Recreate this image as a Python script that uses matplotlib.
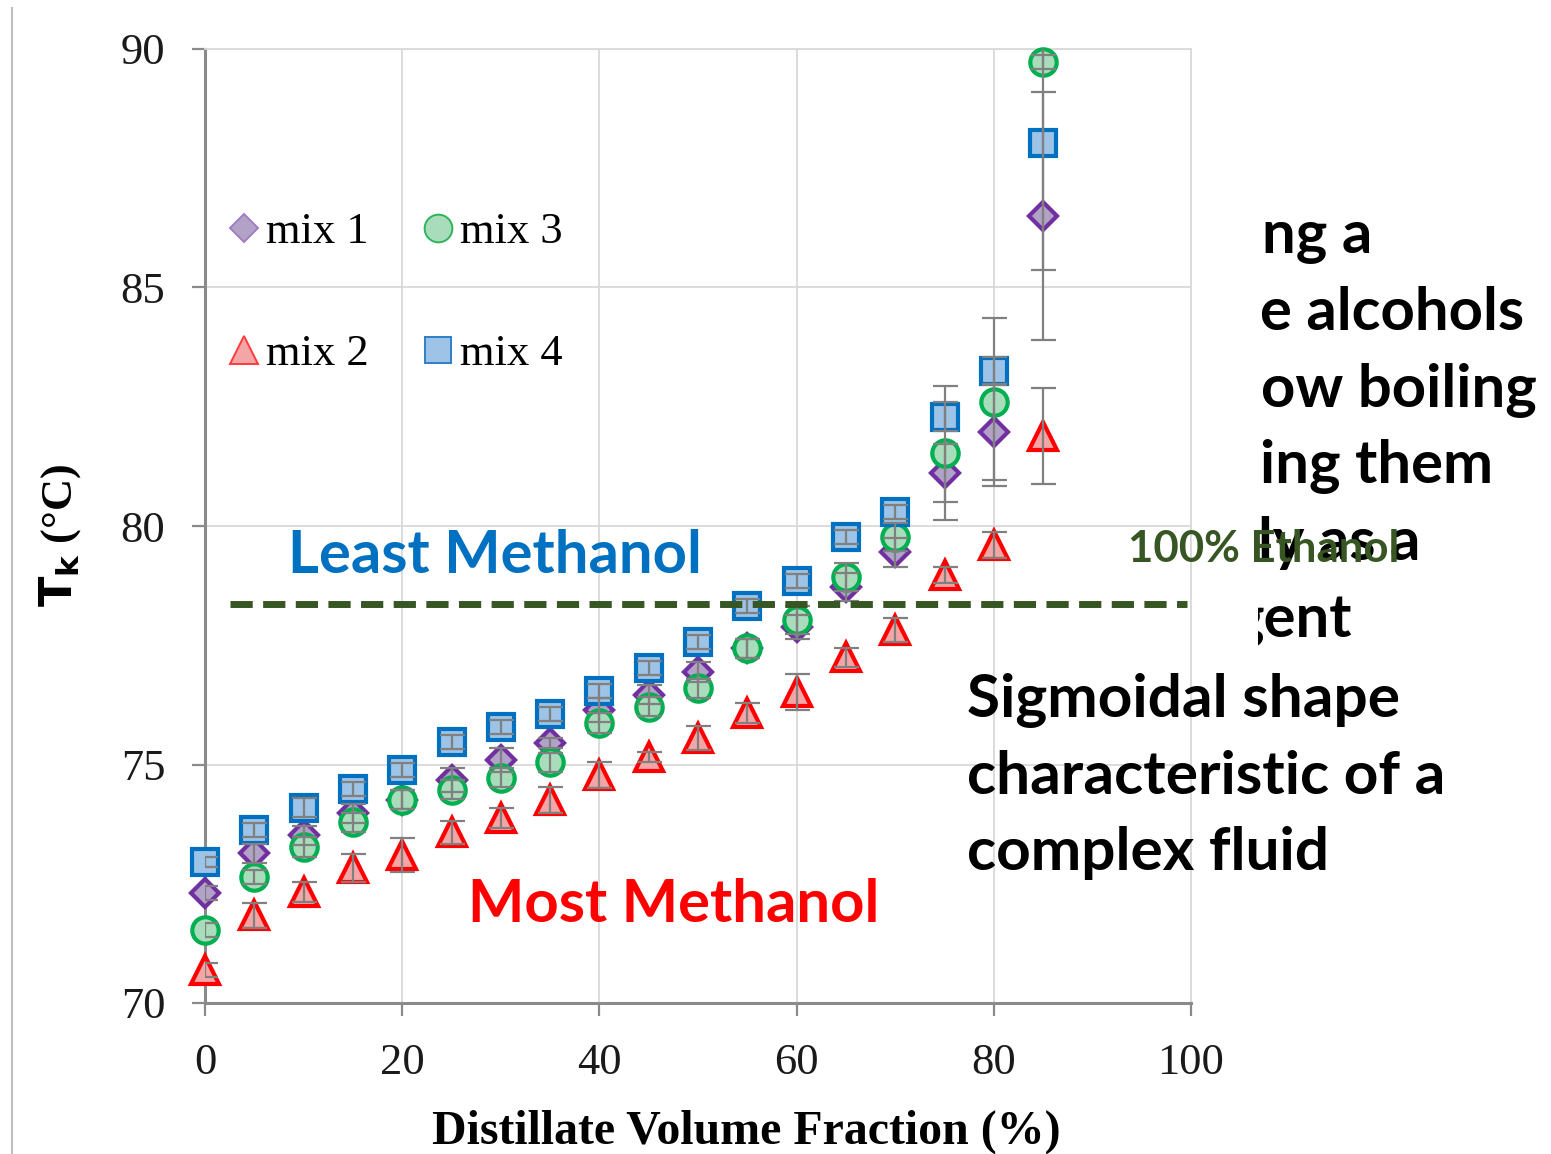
import numpy as np
import matplotlib
matplotlib.use("Agg")
import matplotlib.pyplot as plt
from matplotlib.lines import Line2D
from matplotlib.transforms import Bbox, TransformedBbox

# distillate volume fraction (%)
fraction = [0, 5, 10, 15, 20, 25, 30, 35, 40, 45, 50, 55, 60, 65, 70, 75, 80, 85]

# kettle temperature (deg C) per mixture
mix1 = [72.31, 73.14, 73.52, 73.98, 74.26, 74.67, 75.09, 75.45, 76.14, 76.46,
        76.94, 77.44, 77.88, 78.72, 79.45, 81.11, 81.97, 86.50]
mix2 = [70.69, 71.84, 72.33, 72.83, 73.10, 73.58, 73.88, 74.26, 74.78, 75.16,
        75.56, 76.08, 76.52, 77.25, 77.82, 78.97, 79.60, 81.89]
mix3 = [71.53, 72.64, 73.27, 73.79, 74.26, 74.47, 74.72, 75.05, 75.87, 76.21,
        76.60, 77.44, 78.03, 78.93, 79.77, 81.53, 82.60, 89.73]
mix4 = [72.96, 73.63, 74.09, 74.49, 74.88, 75.47, 75.79, 76.06, 76.54, 77.02,
        77.57, 78.32, 78.85, 79.77, 80.29, 82.29, 83.25, 88.03]

# standard deviations
err1 = [0.15, 0.20, 0.20, 0.20, 0.20, 0.25, 0.25, 0.11, 0.25, 0.20,
        0.20, 0.20, 0.25, 0.30, 0.30, 0.60, 1.00, 2.60]
err2 = [0.15, 0.26, 0.21, 0.29, 0.36, 0.24, 0.21, 0.27, 0.27, 0.10,
        0.25, 0.20, 0.38, 0.20, 0.25, 0.17, 0.27, 1.00]
err3 = [0.15, 0.15, 0.20, 0.20, 0.20, 0.20, 0.20, 0.20, 0.20, 0.20,
        0.20, 0.20, 0.30, 0.30, 0.30, 1.40, 1.77, 0.15]
err4 = [0.10, 0.15, 0.20, 0.15, 0.15, 0.15, 0.15, 0.15, 0.15, 0.15,
        0.15, 0.15, 0.15, 0.15, 0.15, 0.30, 0.30, 2.66]

ETHANOL_BP = 78.37

x_ticks = [0, 20, 40, 60, 80, 100]
y_ticks = [70, 75, 80, 85, 90]

W, H = 1551, 1154
fig = plt.figure(figsize=(W / 100, H / 100), dpi=100)


def px(x, y):
    return x / W, 1 - y / H


ax = fig.add_axes([205 / W, 1 - 1003 / H, (1191 - 205) / W, (1003 - 49) / H])

series = [
    ("mix 1", mix1, err1, "D", 14, "#b3a2c7", "#7030a0", "#9b7fc4"),
    ("mix 2", mix2, err2, "^", 19.5, "#f4a6a6", "#ff0000", "#ff3b3b"),
    ("mix 3", mix3, err3, "o", 19, "#a9dcbb", "#00b050", "#2db45a"),
    ("mix 4", mix4, err4, "s", 18.5, "#9dc3e6", "#0070c0", "#2e7fc8"),
]

handles = []
for name, vals, err, mk, ms, face, edge, legedge in series:
    ax.plot(fraction, vals, ls="none", marker=mk, ms=ms, mfc=face, mec=edge,
            mew=3, zorder=3, clip_on=False)
    handles.append(Line2D([], [], ls="none", marker=mk, ms=ms * 1.05, mfc=face,
                          mec=legedge, mew=1.4, label=name))
for name, vals, err, *_ in series:
    ax.errorbar(fraction, vals, yerr=err, fmt="none", ecolor="#808080",
                elinewidth=1.6, capsize=9, capthick=1.6, zorder=4)

ax.axhline(ETHANOL_BP, xmin=0.025, xmax=0.996, color="#375623", lw=5,
           ls=(0, (3.2, 1.5)), zorder=5)

ax.set_xlim(0, 100)
ax.set_ylim(70, 90)
ax.set_xticks(x_ticks)
ax.set_yticks(y_ticks)
ax.grid(True, color="#d9d9d9", lw=1.3, zorder=0)
ax.set_axisbelow(True)
for side in ("top", "right"):
    ax.spines[side].set_color("#d9d9d9")
    ax.spines[side].set_linewidth(1.3)
for side in ("left", "bottom"):
    ax.spines[side].set_color("#8a8a8a")
    ax.spines[side].set_linewidth(2.2)
ax.tick_params(axis="both", direction="out", length=9.5, width=1.6,
               color="#8a8a8a", labelsize=32, pad=19)
for lab in ax.get_xticklabels() + ax.get_yticklabels():
    lab.set_family("Liberation Serif")
    lab.set_color("#1a1a1a")

ax.set_xlabel("Distillate Volume Fraction (%)", family="Liberation Serif",
              fontweight="bold", fontsize=34.5)
ax.xaxis.set_label_coords((746 - 205) / 986, -0.112)
plt.rcParams["mathtext.fontset"] = "stix"
ax.set_ylabel(r"$\mathbf{T_k}$ (°C)", family="Liberation Serif",
              fontweight="bold", fontsize=32)
ax.yaxis.set_label_coords(-0.124, 0.49)

ax.legend(handles=handles, ncol=2, frameon=False, loc="upper left",
          bbox_to_anchor=px(226, 212), bbox_transform=fig.transFigure,
          prop={"family": "Liberation Serif", "size": 32},
          handlelength=0.8, handletextpad=0.1, labelspacing=1.85,
          columnspacing=1.15, borderpad=0, borderaxespad=0)

# slide border on the left
fig.add_artist(Line2D([12 / W, 12 / W], [0, 1 - 8 / H], color="#bfbfbf", lw=1.5))

calibri = dict(family="Lato", fontweight="bold")
fig.text(*px(288, 573), "Least Methanol", color="#0070c0", fontsize=43,
         va="baseline", ha="left", **calibri)
fig.text(*px(468, 922), "Most Methanol", color="#ff0000", fontsize=43,
         va="baseline", ha="left", **calibri)

# side text partly hidden behind the chart
side_lines = ["ng a", "e alcohols", "ow boiling", "ing them", "ly as a", "gent"]
side_x = [1262, 1260, 1261, 1260, 1258, 1233]
clip = TransformedBbox(Bbox([[1258 / W, 0], [1, 1]]), fig.transFigure)
for i, (s, x0) in enumerate(zip(side_lines, side_x)):
    t = fig.text(*px(x0, 253 + 76.8 * i), s, color="black", fontsize=43,
                 va="baseline", ha="left", zorder=1, **calibri)
    t.set_clip_box(clip)
    t.set_clip_on(True)

fig.text(*px(1128, 562), "100% Ethanol", color="#375623", fontsize=31.5,
         va="baseline", ha="left", zorder=2, **calibri)

for i, s in enumerate(["Sigmoidal shape", "characteristic of a", "complex fluid"]):
    fig.text(*px(967, 717 + 76.5 * i), s, color="black", fontsize=43.5,
             va="baseline", ha="left", zorder=2, **calibri)

fig.savefig("out.png", dpi=100)
